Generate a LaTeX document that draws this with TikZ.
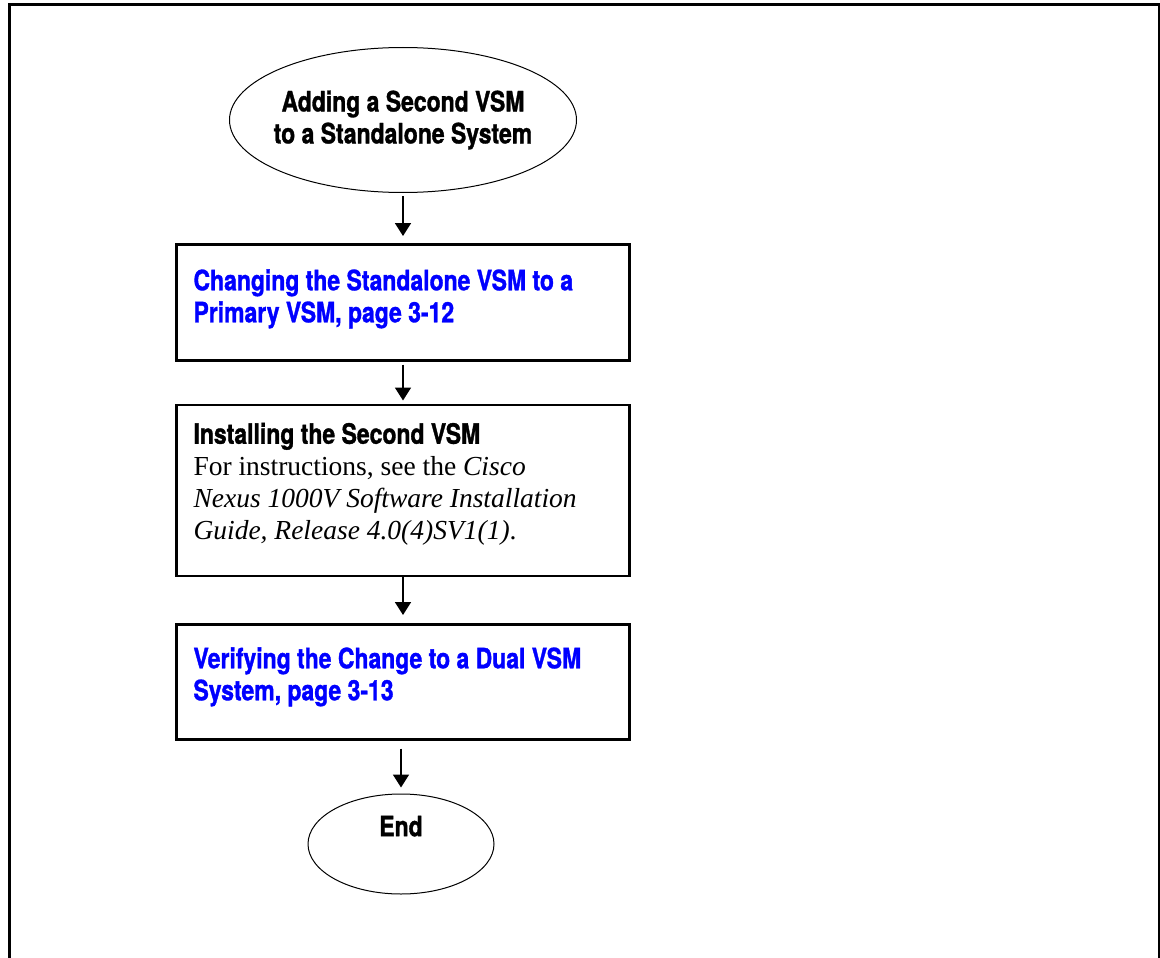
\documentclass[tikz,border=0pt]{standalone}
\usepackage{fontspec}
\setmainfont{Liberation Serif}
\newfontfamily\narrowsans{TeX Gyre Heros}[FakeStretch=0.82, BoldFeatures={FakeBold=1.2}]
\usetikzlibrary{arrows.meta,positioning,shapes.geometric}

\newcommand{\headtext}{\narrowsans\bfseries\fontsize{28}{32}\selectfont}
\newcommand{\boxtext}[1]{\parbox[t]{419pt}{\raggedright #1}}

\begin{document}
\begin{tikzpicture}[x=1pt,y=-1pt]
    \tikzstyle{every node} = [font=\headtext]
    \tikzstyle{terminal} = [draw, ellipse, line width=1pt, inner sep=0pt, align=center]
    \tikzstyle{stepbox} = [draw, rectangle, line width=2.5pt, inner xsep=17pt, inner ysep=0pt, minimum width=453pt]
    \tikzstyle{link} = [text=blue]
    \tikzstyle{flow} = [-{Triangle[width=16pt,length=13pt]}, line width=1.8pt]

    \useasboundingbox (0,0) rectangle (1160,958);
    % frame
    \draw[line width=3pt] (9.5,965) |- (1159,5) -- (1159,965);

    % place nodes
    \node[terminal, inner xsep=-12pt, minimum width=347pt, minimum height=145pt] (start) at (403,120) {Adding a Second VSM\\to a Standalone System};
    \node[stepbox, link, text height=46pt, text depth=70pt, below=50pt of start] (chg)
        {\boxtext{Changing the Standalone VSM to a\\Primary VSM, page 3-12}};
    \node[stepbox, text height=39pt, text depth=132pt, below=42pt of chg] (inst)
        {\boxtext{Installing the Second VSM\\{\normalfont\fontsize{27.5}{32}\selectfont For instructions, see the \textit{Cisco}\\\textit{Nexus 1000V Software Installation}\\\textit{Guide, Release 4.0(4)SV1(1)}.}}};
    \node[stepbox, link, text height=44pt, text depth=71pt, below=46pt of inst] (ver)
        {\boxtext{Verifying the Change to a Dual VSM\\System, page 3-13}};
    \node[terminal, minimum width=186pt, minimum height=100pt, text depth=36pt, below=53pt of ver, xshift=-2pt] (done) {End};

    % connections
    \draw[flow, shorten <=3pt, shorten >=7pt] (start) -- (chg);
    \draw[flow, shorten <=3pt, shorten >=3pt] (chg) -- (inst);
    \draw[flow, shorten >=8pt] (inst) -- (ver);
    \draw[flow, shorten <=8pt, shorten >=6pt] (ver.south -| done.north) -- (done);
\end{tikzpicture}
\end{document}
